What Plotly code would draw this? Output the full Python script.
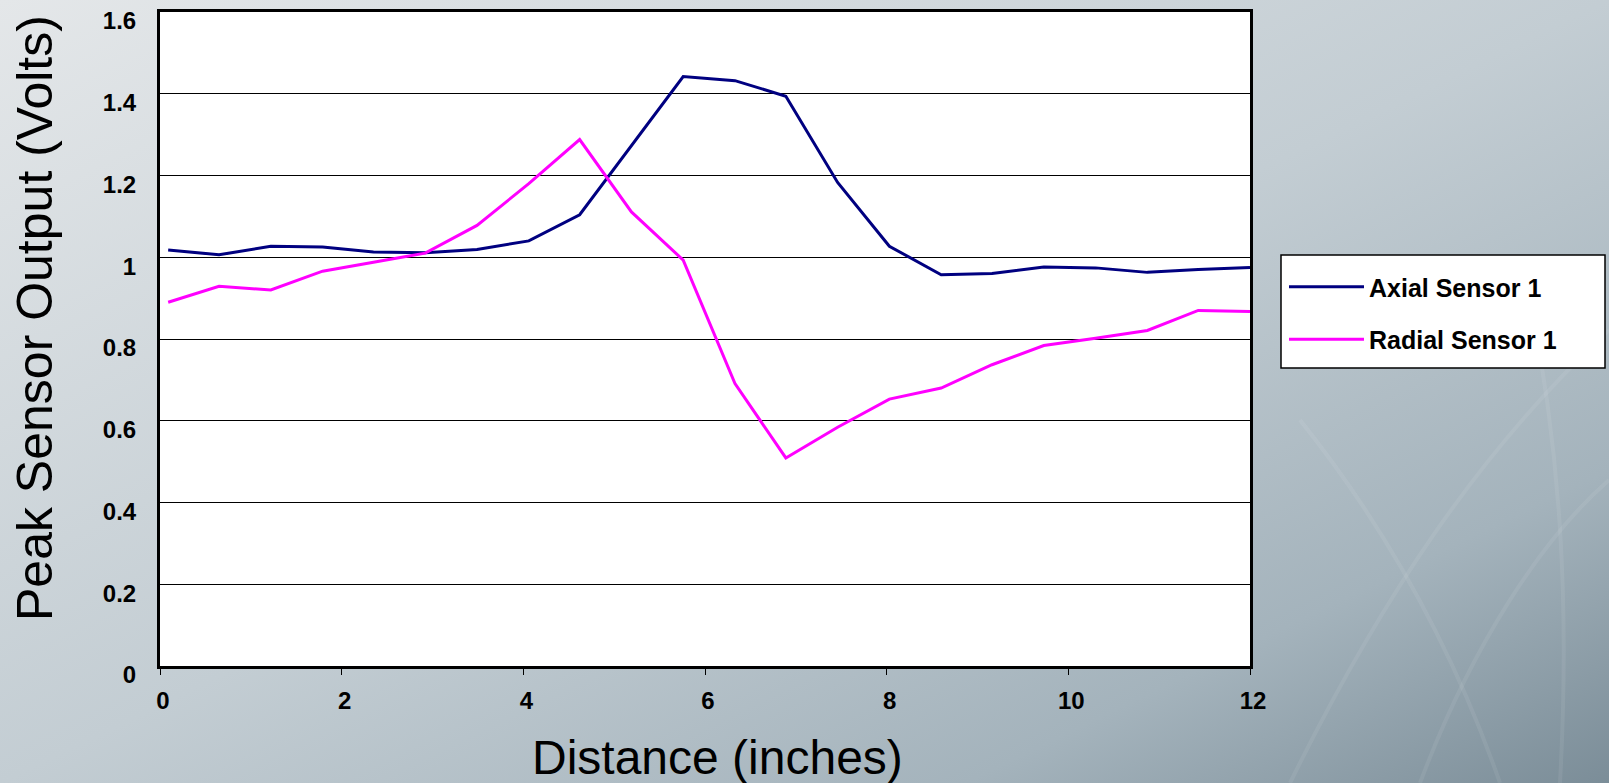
import base64
import plotly.graph_objects as go

# ---- data ----
distance = [0.09, 0.65, 1.22, 1.79, 2.35, 2.92, 3.49, 4.06, 4.62, 5.19, 5.76,
            6.33, 6.89, 7.46, 8.03, 8.60, 9.16, 9.73, 10.30, 10.87, 11.43, 12.0]
axial = [1.018, 1.006, 1.027, 1.025, 1.013, 1.011, 1.019, 1.040, 1.104, 1.274, 1.442,
         1.432, 1.394, 1.183, 1.027, 0.957, 0.960, 0.976, 0.974, 0.963, 0.970, 0.975]
radial = [0.890, 0.929, 0.920, 0.966, 0.988, 1.010, 1.078, 1.180, 1.288, 1.111, 0.993,
          0.691, 0.509, 0.584, 0.653, 0.680, 0.737, 0.784, 0.802, 0.821, 0.870, 0.867]
series_names = ["Axial Sensor 1", "Radial Sensor 1"]
y_tickvals = [0, 0.2, 0.4, 0.6, 0.8, 1.0, 1.2, 1.4, 1.6]
y_ticktext = ["0", "0.2", "0.4", "0.6", "0.8", "1", "1.2", "1.4", "1.6"]
x_tickvals = [0, 2, 4, 6, 8, 10, 12]
x_title = "Distance (inches)"
y_title = "Peak Sensor Output (Volts)"

W, H = 1609, 783
ML, MR, MT, MB = 160, 359, 12, 117
PW, PH = W - ML - MR, H - MT - MB

def px_x(p):
    return (p - ML) / PW

def px_y(p):
    return (H - MB - p) / PH

FONT = "Liberation Sans, Arial, sans-serif"

# background gradient (svg data uri)
svg = f'''<svg xmlns="http://www.w3.org/2000/svg" width="{W}" height="{H}" viewBox="0 0 {W} {H}" preserveAspectRatio="none">
<defs><linearGradient id="g" x1="0" y1="0" x2="1" y2="1">
<stop offset="0" stop-color="#e4e7e9"/><stop offset="0.5" stop-color="#c3cdd3"/>
<stop offset="0.8" stop-color="#a4b3bc"/><stop offset="1" stop-color="#7b8d98"/>
</linearGradient></defs>
<rect width="{W}" height="{H}" fill="url(#g)"/>
<g fill="none" stroke="#ffffff" stroke-opacity="0.07" stroke-width="4">
<path d="M1290 783 C1380 600 1480 450 1609 330"/>
<path d="M1420 783 C1470 650 1540 540 1609 480"/>
<path d="M1300 420 C1380 520 1450 640 1500 783"/>
<path d="M1530 300 C1560 450 1570 600 1560 783"/>
</g>
</svg>'''
src = "data:image/svg+xml;base64," + base64.b64encode(svg.encode()).decode()

fig = go.Figure()
fig.add_trace(go.Scatter(x=distance, y=axial, mode="lines", name=series_names[0],
                         legendgroup="a", line=dict(color="#000080", width=3)))
fig.add_trace(go.Scatter(x=distance, y=radial, mode="lines", name=series_names[1],
                         legendgroup="b", line=dict(color="#ff00ff", width=3)))

tickfont = dict(family=FONT, size=24, color="black", weight=700)

fig.update_layout(
    width=W, height=H,
    margin=dict(l=ML, r=MR, t=MT, b=MB, autoexpand=False),
    paper_bgcolor="#c3cdd3",
    plot_bgcolor="white",
    showlegend=True,
    legend=dict(x=px_x(1284), y=px_y(264), xanchor="left", yanchor="top",
                bgcolor="rgba(0,0,0,0)", borderwidth=0,
                font=dict(family=FONT, size=25, color="black", weight=700),
                itemwidth=75, tracegroupgap=17, traceorder="grouped"),
    images=[dict(source=src, xref="paper", yref="paper", x=px_x(0), y=px_y(0),
                 sizex=W / PW, sizey=H / PH, sizing="stretch", layer="below",
                 xanchor="left", yanchor="top")],
    shapes=[
        dict(type="rect", xref="paper", yref="paper", x0=0, x1=1, y0=0, y1=1,
             line=dict(width=0), fillcolor="white", layer="below"),
        dict(type="rect", xref="paper", yref="paper",
             x0=px_x(1281), x1=px_x(1605), y0=px_y(368), y1=px_y(255),
             line=dict(color="black", width=1.5), fillcolor="white", layer="below"),
    ],
    annotations=[
        dict(text=x_title, xref="paper", yref="paper", x=px_x(717), y=px_y(757),
             xanchor="center", yanchor="middle", showarrow=False,
             font=dict(family=FONT, size=48, color="black")),
        dict(text=y_title, xref="paper", yref="paper", x=px_x(35), y=px_y(318),
             xanchor="center", yanchor="middle", showarrow=False, textangle=-90,
             font=dict(family=FONT, size=50, color="black")),
    ],
)

fig.update_xaxes(range=[0, 12], tickmode="array", tickvals=x_tickvals,
                 showgrid=False, zeroline=False,
                 showline=True, mirror=True, linecolor="black", linewidth=3,
                 ticks="outside", ticklen=6, tickwidth=1, tickcolor="black",
                 tickfont=tickfont, ticklabelstandoff=5, ticklabelshift=3,
                 ticklabeloverflow="allow")
fig.update_yaxes(range=[0, 1.6], tickmode="array", tickvals=y_tickvals, ticktext=y_ticktext,
                 showgrid=True, gridcolor="black", gridwidth=1, zeroline=False,
                 showline=True, mirror=True, linecolor="black", linewidth=3,
                 ticks="", tickfont=tickfont, ticklabelstandoff=16, ticklabelshift=9,
                 ticklabeloverflow="allow")

fig.write_html("out.html")
